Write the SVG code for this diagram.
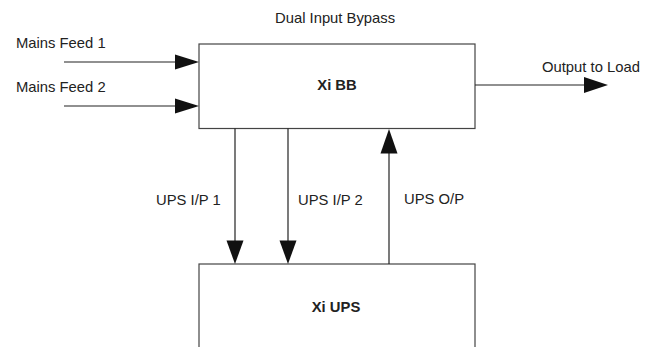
<svg xmlns="http://www.w3.org/2000/svg" width="659" height="347" viewBox="0 0 659 347">
<style>
text{font-family:"Liberation Sans",Arial,sans-serif;font-size:14.8px;fill:#222}
.b{font-weight:bold}
.box{fill:#fff;stroke:#444;stroke-width:1.2}
.ln{stroke:#222;stroke-width:1.2;fill:none}
.ah{fill:#111}
</style>
<rect width="659" height="347" fill="#fff"/>
<text x="275" y="23">Dual Input Bypass</text>
<g id="xi-bb">
<rect class="box" x="199" y="44" width="276" height="84.5"/>
<text class="b" x="337" y="90" text-anchor="middle">Xi BB</text>
</g>
<g id="xi-ups">
<rect class="box" x="199" y="264" width="276" height="100"/>
<text class="b" x="336" y="312" text-anchor="middle">Xi UPS</text>
</g>
<g id="connectors">
<line class="ln" x1="64" y1="62" x2="180" y2="62"/>
<polygon class="ah" points="175,54.5 199,62 175,69.5"/>
<text x="16" y="48">Mains Feed 1</text>
<line class="ln" x1="64" y1="106" x2="180" y2="106"/>
<polygon class="ah" points="175,98.5 199,106 175,113.5"/>
<text x="16" y="92">Mains Feed 2</text>
<line class="ln" x1="475" y1="85" x2="590" y2="85"/>
<polygon class="ah" points="584,77 608,85 584,93"/>
<text x="542" y="72">Output to Load</text>
<line class="ln" x1="235" y1="128.5" x2="235" y2="245"/>
<polygon class="ah" points="226.5,240.5 235,264 243.5,240.5"/>
<text x="156" y="205">UPS I/P 1</text>
<line class="ln" x1="288" y1="128.5" x2="288" y2="245"/>
<polygon class="ah" points="279.5,240.5 288,264 296.5,240.5"/>
<text x="298" y="205">UPS I/P 2</text>
<line class="ln" x1="389" y1="148" x2="389" y2="264"/>
<polygon class="ah" points="380.5,153.5 389,129 397.5,153.5"/>
<text x="404" y="204">UPS O/P</text>
</g>
</svg>
